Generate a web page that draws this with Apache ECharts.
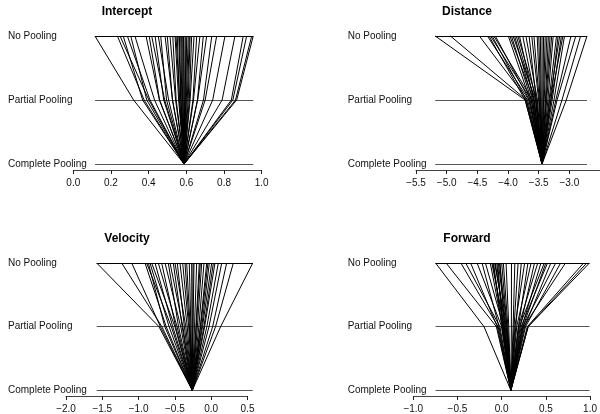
<!DOCTYPE html>
<html>
<head>
<meta charset="utf-8">
<script src="https://cdn.jsdelivr.net/npm/echarts@6/dist/echarts.min.js"></script>
<style>
  html, body { margin: 0; padding: 0; background: #fff; }
  #chart { width: 600px; height: 414px; }
</style>
</head>
<body>
<div id="chart"></div>
<script>
// levels from top to bottom
var levelNames = ['Complete Pooling', 'Partial Pooling', 'No Pooling'];

// Intercept
var interceptNoPool = [0.115, 0.234, 0.248, 0.265, 0.287, 0.305, 0.327, 0.386, 0.403, 0.416, 0.434, 0.451, 0.464, 0.487, 0.499, 0.513, 0.528, 0.540, 0.545, 0.552, 0.560, 0.563, 0.570, 0.575, 0.581, 0.585, 0.593, 0.598, 0.602, 0.610, 0.616, 0.620, 0.628, 0.641, 0.655, 0.672, 0.690, 0.708, 0.735, 0.761, 0.805, 0.858, 0.902, 0.920, 0.947, 0.955];
var interceptPartial = [0.320, 0.376, 0.401, 0.368, 0.407, 0.390, 0.431, 0.457, 0.458, 0.485, 0.480, 0.506, 0.495, 0.527, 0.526, 0.543, 0.546, 0.559, 0.565, 0.563, 0.570, 0.572, 0.576, 0.580, 0.583, 0.587, 0.591, 0.594, 0.597, 0.600, 0.605, 0.610, 0.616, 0.620, 0.635, 0.638, 0.659, 0.660, 0.691, 0.700, 0.740, 0.790, 0.839, 0.847, 0.861, 0.867];
var interceptComplete = 0.588;

// Distance
var distanceNoPool = [-5.186, -4.939, -4.467, -4.336, -4.310, -4.285, -4.258, -4.231, -4.206, -3.995, -3.970, -3.943, -3.917, -3.892, -3.865, -3.839, -3.813, -3.760, -3.708, -3.656, -3.613, -3.577, -3.524, -3.498, -3.472, -3.445, -3.420, -3.393, -3.366, -3.341, -3.314, -3.288, -3.263, -3.209, -3.184, -3.157, -3.130, -3.105, -3.079, -2.973, -2.895, -2.816, -2.712];
var distancePartial = [-3.72, -3.70, -3.68, -3.66, -3.72, -3.62, -3.70, -3.60, -3.65, -3.64, -3.58, -3.62, -3.55, -3.60, -3.57, -3.53, -3.58, -3.55, -3.52, -3.54, -3.50, -3.49, -3.48, -3.47, -3.46, -3.445, -3.43, -3.42, -3.41, -3.39, -3.38, -3.37, -3.35, -3.33, -3.30, -3.32, -3.28, -3.30, -3.25, -3.22, -3.20, -3.12, -3.05];
var distanceComplete = -3.445;

// Velocity
var velocityNoPool = [-1.577, -1.233, -1.095, -0.912, -0.889, -0.866, -0.843, -0.820, -0.774, -0.729, -0.682, -0.636, -0.591, -0.567, -0.522, -0.499, -0.467, -0.430, -0.393, -0.361, -0.338, -0.302, -0.269, -0.237, -0.200, -0.164, -0.131, -0.099, -0.062, -0.026, 0.007, 0.052, 0.098, 0.145, 0.213, 0.305, 0.572, -0.250, -0.150, -0.045, 0.030];
var velocityPartial = [-0.72, -0.68, -0.70, -0.62, -0.55, -0.64, -0.58, -0.50, -0.53, -0.47, -0.49, -0.42, -0.45, -0.39, -0.40, -0.35, -0.37, -0.33, -0.31, -0.30, -0.29, -0.28, -0.265, -0.25, -0.23, -0.21, -0.19, -0.17, -0.15, -0.13, -0.12, -0.09, -0.06, -0.03, 0.02, 0.06, 0.13, -0.255, -0.205, -0.145, -0.100];
var velocityComplete = -0.26;

// Forward
var forwardNoPool = [-0.748, -0.629, -0.462, -0.407, -0.351, -0.278, -0.222, -0.184, -0.129, -0.111, -0.092, -0.073, -0.056, -0.037, -0.018, 0.000, 0.019, 0.111, 0.149, 0.186, 0.222, 0.260, 0.297, 0.333, 0.371, 0.408, 0.444, 0.482, 0.500, 0.519, 0.556, 0.611, 0.667, 0.722, 0.927, 0.963, 0.993, -0.100, -0.080, -0.045, -0.025, 0.050];
var forwardPartial = [-0.20, -0.06, -0.04, -0.02, -0.05, 0.00, -0.03, 0.02, 0.01, 0.03, 0.00, 0.04, 0.02, 0.05, 0.03, 0.06, 0.07, 0.11, 0.13, 0.14, 0.16, 0.15, 0.19, 0.17, 0.21, 0.19, 0.23, 0.20, 0.24, 0.22, 0.26, 0.24, 0.27, 0.25, 0.29, 0.30, 0.30, 0.02, 0.05, 0.01, 0.06, 0.08];
var forwardComplete = 0.104;

// grid runs from the "No Pooling" level down to the x axis line;
// yMin leaves the gap between the "Complete Pooling" level and the axis
var panels = [
	{title: 'Intercept', noPool: interceptNoPool, partial: interceptPartial, complete: interceptComplete,
		min: 0, max: 1, interval: 0.2, left: 73.3, top: 36, width: 188.4, height: 134, yMin: -0.094, titleX: 127, titleY: 12, labelX: 8},
	{title: 'Distance', noPool: distanceNoPool, partial: distancePartial, complete: distanceComplete,
		min: -5.5, max: -2.5, interval: 0.5, left: 416, top: 36, width: 190.8, height: 134, yMin: -0.094, titleX: 467, titleY: 12, labelX: 347.7},
	{title: 'Velocity', noPool: velocityNoPool, partial: velocityPartial, complete: velocityComplete,
		min: -2, max: 0.5, interval: 0.5, left: 66, top: 263, width: 181.5, height: 133, yMin: -0.09, titleX: 127, titleY: 239, labelX: 8},
	{title: 'Forward', noPool: forwardNoPool, partial: forwardPartial, complete: forwardComplete,
		min: -1, max: 1, interval: 0.5, left: 413.3, top: 263, width: 180, height: 133, yMin: -0.09, titleX: 467, titleY: 239, labelX: 347.7}
];

var fontFamily = '"Liberation Sans", Arial, Helvetica, sans-serif';

var grids = [], xAxes = [], yAxes = [], series = [], graphics = [];
for (var i = 0; i < panels.length; i++) {
	var p = panels[i];
	grids.push({left: p.left, top: p.top, width: p.width, height: p.height, containLabel: false});
	xAxes.push({
		gridIndex: i, type: 'value', min: p.min, max: p.max, interval: p.interval,
		axisLine: {show: true, onZero: false, lineStyle: {color: '#444', width: 1}},
		axisTick: {show: true, inside: false, length: 4, lineStyle: {color: '#222'}},
		splitLine: {show: false},
		axisLabel: {
			show: true, margin: 8, color: '#111', fontSize: 10, fontFamily: fontFamily,
			showMaxLabel: i === 1 ? false : true,
			formatter: function (v) { return v.toFixed(1).replace('-', '\u2212'); }
		}
	});
	yAxes.push({
		gridIndex: i, type: 'value', min: p.yMin, max: 2,
		axisLine: {show: false}, axisTick: {show: false}, splitLine: {show: false},
		axisLabel: {
			show: true, customValues: [0, 1, 2],
			align: 'left', margin: p.left - p.labelX, color: '#111', fontSize: 10, fontFamily: fontFamily,
			formatter: function (v) { return levelNames[Math.round(v)]; }
		}
	});

	// horizontal level lines span the no-pooling range
	var lo = Math.min.apply(null, p.noPool), hi = Math.max.apply(null, p.noPool);
	series.push({
		type: 'lines', coordinateSystem: 'cartesian2d', xAxisIndex: i, yAxisIndex: i,
		silent: true, animation: false, clip: false, z: 1,
		lineStyle: {color: '#555', width: 1, opacity: 1},
		data: [
			{coords: [[lo, 1], [hi, 1]]},
			{coords: [[lo, 0], [hi, 0]]},
			{coords: [[lo, 2], [hi, 2]], lineStyle: {color: '#000'}}
		]
	});

	// one polyline per group: no pooling -> partial -> complete
	var segs = [];
	for (var j = 0; j < p.noPool.length; j++) {
		segs.push({coords: [[p.noPool[j], 2], [p.partial[j], 1], [p.complete, 0]]});
	}
	series.push({
		type: 'lines', coordinateSystem: 'cartesian2d', polyline: true, xAxisIndex: i, yAxisIndex: i,
		silent: true, animation: false, clip: false, z: 2,
		lineStyle: {color: '#000', width: 1, opacity: 1},
		data: segs
	});

	graphics.push({
		type: 'text', x: p.titleX, y: p.titleY,
		style: {text: p.title, align: 'center', verticalAlign: 'middle', fill: '#000',
			font: 'bold 12px ' + fontFamily}
	});
}

var myChart = echarts.init(document.getElementById('chart'));
myChart.setOption({
	backgroundColor: '#fff',
	animation: false,
	grid: grids,
	xAxis: xAxes,
	yAxis: yAxes,
	series: series,
	graphic: graphics
});
</script>
</body>
</html>
